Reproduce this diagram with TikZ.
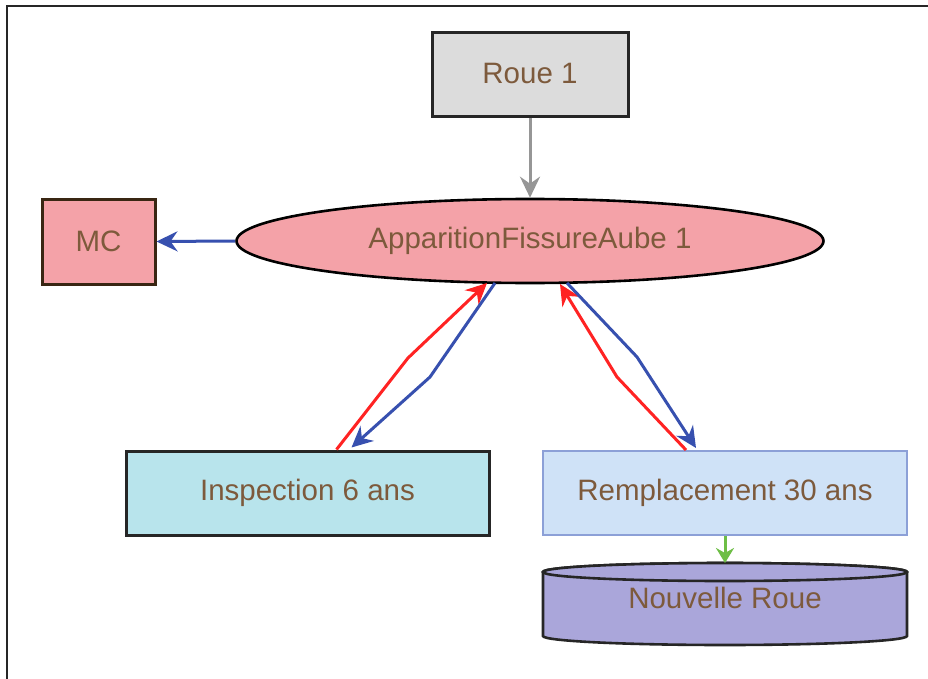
\documentclass[tikz,border=0pt]{standalone}
\usepackage{fontspec}
\setmainfont{Liberation Sans}
\usetikzlibrary{arrows.meta,calc,shapes.geometric}
\definecolor{txt}{RGB}{125,90,60}
\definecolor{roue}{RGB}{220,220,220}
\definecolor{pinkf}{RGB}{244,162,168}
\definecolor{cyanf}{RGB}{184,228,236}
\definecolor{bluef}{RGB}{207,226,247}
\definecolor{blueb}{RGB}{140,160,215}
\definecolor{cylf}{RGB}{170,166,218}
\definecolor{eblue}{RGB}{55,80,175}
\definecolor{ered}{RGB}{255,35,35}
\definecolor{egray}{RGB}{150,150,150}
\definecolor{egreen}{RGB}{110,190,70}
\tikzset{
  lbl/.style={text=txt,font=\fontsize{29.5}{32}\selectfont},
  boxn/.style={draw=black!85,line width=3pt,inner sep=0pt,lbl},
  conn/.style={line width=3pt,-{Stealth[length=21pt,width=20pt,inset=7pt]}},
}
\begin{document}
\begin{tikzpicture}[x=1pt,y=-1pt]
\useasboundingbox (0,0) rectangle (928,679);
\fill[white] (0,0) rectangle (928,679);
\draw[line width=2.2pt,black!85] (7,679) -- (7,6) -- (928,6);

\node[boxn,fill=roue,minimum width=196pt,minimum height=84pt] (roue) at (530,75) {\raisebox{3pt}{Roue 1}};
\node[draw=black,line width=2.6pt,fill=pinkf,ellipse,inner sep=0pt,minimum width=587pt,minimum height=84pt,lbl] (ell) at (530,241) {\raisebox{2pt}{ApparitionFissureAube 1}};
\node[boxn,draw=black!70!brown,fill=pinkf,minimum width=113pt,minimum height=85pt] (mc) at (98.5,241.5) {MC};
\node[boxn,fill=cyanf,minimum width=363pt,minimum height=84pt] (insp) at (307.5,493) {\raisebox{2pt}{Inspection 6 ans}};
\node[boxn,draw=blueb,line width=2pt,fill=bluef,minimum width=364pt,minimum height=84pt] (rempl) at (725,493) {\raisebox{2pt}{Remplacement 30 ans}};

% cylinder Nouvelle Roue
\coordinate (cyltop) at (725,563);
\draw[line width=2.6pt,draw=black!85,fill=cylf]
  (543,572) -- (543,636) arc[start angle=180,end angle=360,x radius=182pt,y radius=9pt]
  -- (907,572) arc[start angle=0,end angle=180,x radius=182pt,y radius=9pt] -- cycle;
\draw[line width=2.6pt,draw=black!85,fill=cylf] (725,572) ellipse[x radius=182pt,y radius=9pt];
\node[lbl] (nr) at (725,598) {Nouvelle Roue};

% connectors
\draw[conn,egray] (roue.south) -- (ell.north);
\draw[conn,eblue] (ell.west) -- (mc.east);

\draw[conn,ered] ($(insp.north west)+(212,0)$) -- (408,358) -- ($(ell.center)+(-43,42)$);
\draw[conn,eblue] ($(ell.center)+(-35,42)$) -- (430,377) -- ($(insp.north west)+(227,-2)$);

\draw[conn,ered] ($(rempl.north west)+(144,0)$) -- (617,377) -- ($(ell.center)+(30,43)$);
\draw[conn,eblue] ($(ell.center)+(37,42)$) -- (637,357) -- ($(rempl.north west)+(154,-2)$);

\draw[conn,egreen,-{Stealth[length=15pt,width=18pt,inset=5pt]}] (rempl.south) -- (cyltop);
\end{tikzpicture}
\end{document}
